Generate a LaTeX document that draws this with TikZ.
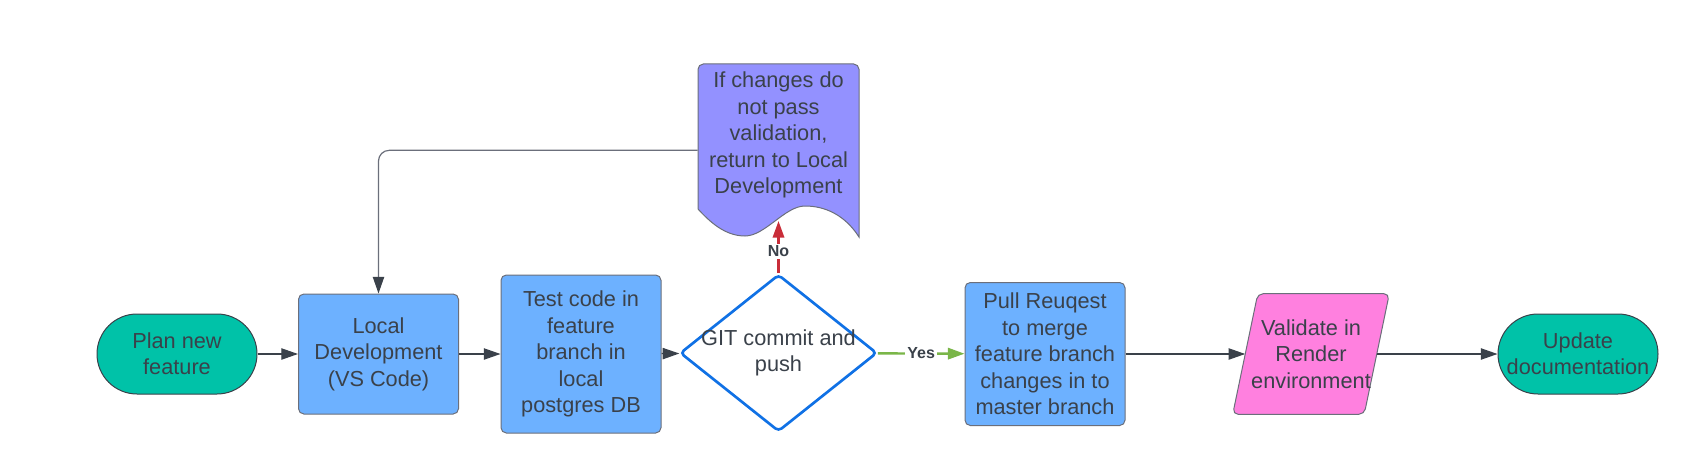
\documentclass[tikz,border=0pt]{standalone}
\usepackage{fontspec}
\setmainfont{Liberation Sans}
\usetikzlibrary{shapes.geometric,arrows.meta,positioning,backgrounds}
\definecolor{tealfill}{HTML}{00C2A8}
\definecolor{bluefill}{HTML}{6DB1FF}
\definecolor{purplefill}{HTML}{9391FF}
\definecolor{pinkfill}{HTML}{FF80DF}
\definecolor{diablue}{HTML}{1071E5}
\definecolor{inkgray}{HTML}{3A414A}
\definecolor{edgegray}{HTML}{6B6F7B}
\definecolor{yesgreen}{HTML}{7AB648}
\definecolor{nored}{HTML}{C92D39}
\tikzset{box text/.style={text=inkgray,font=\fontsize{16.3}{19.8}\selectfont,align=center,inner sep=0pt},
         terminal/.style={box text,rectangle,rounded corners=30pt,fill=tealfill,draw=inkgray,line width=0.75pt,minimum width=120pt,minimum height=60pt},
         process/.style={box text,rectangle,rounded corners=4pt,fill=bluefill,draw=edgegray,line width=0.75pt,minimum width=120pt},
         decision/.style={diamond,draw=diablue,line width=2pt,fill=white,minimum width=147.75pt,minimum height=117.75pt,inner sep=0pt,rounded corners=3pt},
         io shape/.style={fill=pinkfill,draw=edgegray,line width=0.75pt,rounded corners=4pt},
         flow/.style={->,draw=inkgray,line width=0.9pt},
         edge label/.style={rectangle,fill=white,text=inkgray,font=\fontsize{12}{14}\selectfont\bfseries,inner sep=1.5pt},
}

\begin{document}
\begin{tikzpicture}[x=0.75pt,y=-0.75pt,
>={Triangle[length=12.5pt,width=8.5pt]}]
\useasboundingbox (0,0) rectangle (1695,467);

% note shape behind its text
\draw[fill=purplefill,draw=edgegray,line width=0.75pt] (859,237)
  .. controls (845,215) and (825,206) .. (805,206)
  .. controls (785,206) and (765,236) .. (745,236)
  .. controls (725,236) and (710,222) .. (698,209)
  [rounded corners=4pt] -- (698,64) -- (859,64) [sharp corners] -- cycle;

\node[terminal] (plan) at (177,354) {Plan new\\feature};
\node[process,minimum height=90pt] (dev) at (378.5,354) {Local\\Development\\(VS Code)};
\node[process,minimum height=118.5pt] (test) at (581,354) {Test code in\\feature\\branch in\\local\\postgres DB};
\node[decision,label={[box text]center:{GIT commit and\\push}}] (git) at (778.5,353) {};
\node[box text,minimum width=120.75pt] (fail) at (778.5,135) {If changes do\\not pass\\validation,\\return to Local\\Development};
\coordinate (failtip) at (778.5,221);
\node[process,minimum height=107.25pt] (pr) at (1045,354) {Pull Reuqest\\to merge\\feature branch\\changes in to\\master branch};
\node[box text,minimum width=98.25pt,minimum height=90pt] (val) at (1311,354) {Validate in\\Render\\environment};
\node[terminal] (upd) at (1578,354) {Update\\documentation};

\begin{scope}[on background layer]
\draw[io shape] ([xshift=9.4pt]val.north west) -- ([xshift=9.4pt]val.north east)
  -- ([xshift=-9.4pt]val.south east) -- ([xshift=-9.4pt]val.south west) -- cycle;
\end{scope}

% connectors
\draw[flow] (plan) -- (dev);
\draw[flow] (dev) -- (test);
\draw[flow] (test) -- (git);
\draw[flow,draw=yesgreen,line width=1.8pt] (git) -- node[edge label] {Yes} (pr);
\draw[flow,draw=nored,line width=1.8pt] (git.north) -- node[edge label,pos=0.42] {No} (failtip);
\draw[-{Triangle[length=12.5pt,width=8.5pt,color=inkgray]},draw=edgegray,line width=0.9pt,rounded corners=8pt] ([yshift=-11.5pt]fail.west) -| (dev.north);
\draw[flow] (pr) -- (val);
\draw[flow] (val) -- (upd);

\end{tikzpicture}
\end{document}
